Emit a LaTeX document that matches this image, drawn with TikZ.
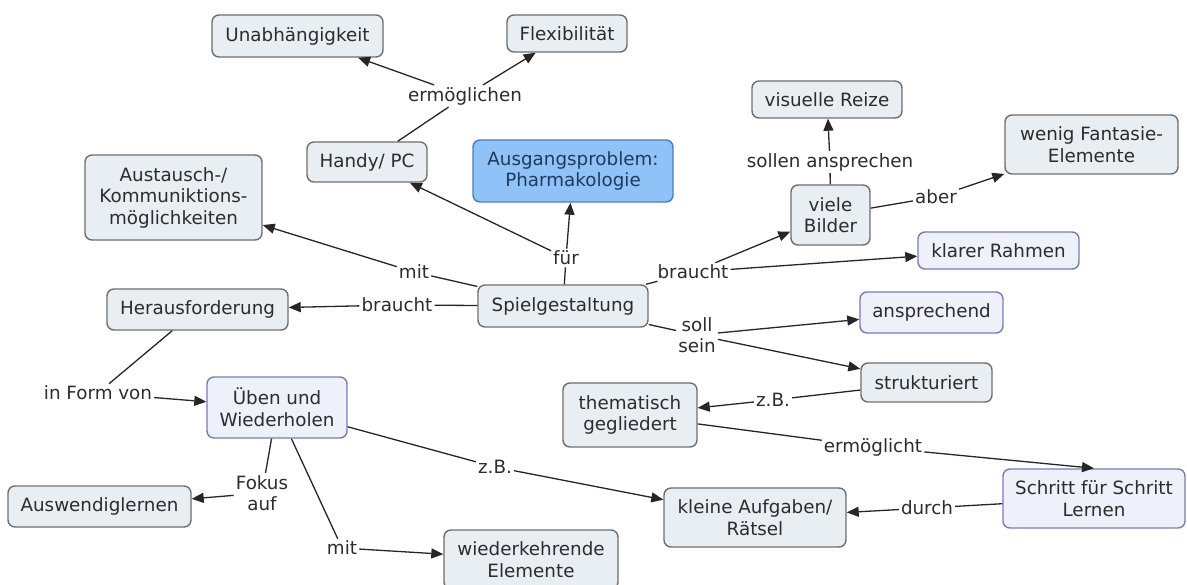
\documentclass[tikz,border=0pt]{standalone}
\usepackage{fontspec}
\setmainfont{DejaVu Sans}
\usetikzlibrary{arrows.meta}

\definecolor{boxfill}{HTML}{E8EEF2}
\definecolor{boxline}{HTML}{6E6E6E}
\definecolor{focusfill}{HTML}{EEF0FA}
\definecolor{focusline}{HTML}{7A7AB8}
\definecolor{probfill}{HTML}{8FC3F7}
\definecolor{probline}{HTML}{4C7CBF}
\definecolor{probtxt}{HTML}{1F3A5C}
\definecolor{txt}{HTML}{2C2C2C}
\definecolor{linkc}{HTML}{262626}

\tikzset{
  concept/.style={draw=boxline, fill=boxfill, rounded corners=7pt, line width=1.4pt,
    text=txt, align=center, inner sep=0pt, font=\fontsize{18.3}{21.5}\selectfont},
  focus/.style={concept, draw=focusline, fill=focusfill},
  problem/.style={concept, draw=probline, fill=probfill, text=probtxt},
  lbl/.style={text=txt, align=center, inner sep=2pt, font=\fontsize{18.3}{21.5}\selectfont},
  link/.style={draw=linkc, line width=1.3pt},
  arr/.style={link, -{Triangle[length=12pt,width=10pt]}},
}

\begin{document}
\begin{tikzpicture}[x=1pt, y=-1pt]
\useasboundingbox (0,0) rectangle (1187,585);
\clip (0,0) rectangle (1187,585);

% concepts
\node[concept, minimum width=171pt, minimum height=42pt] (unab) at (297.5,36) {Unabhängigkeit};
\node[concept, minimum width=120pt, minimum height=37pt] (flex) at (567,33.5) {Flexibilität};
\node[concept, minimum width=120pt, minimum height=40pt] (handy) at (367,162) {Handy/ PC};
\node[problem, minimum width=200pt, minimum height=62pt] (ausg) at (573,171) {Ausgangsproblem:\\Pharmakologie};
\node[concept, minimum width=177pt, minimum height=85pt] (aust) at (173.5,197.5) {Austausch-/\\Kommuniktions-\\möglichkeiten};
\node[concept, minimum width=170pt, minimum height=42pt] (spiel) at (563,306) {Spielgestaltung};
\node[concept, minimum width=181pt, minimum height=41pt] (hera) at (197.5,309.5) {Herausforderung};
\node[focus, minimum width=140pt, minimum height=61pt] (ueben) at (277,407.5) {Üben und\\Wiederholen};
\node[concept, minimum width=183pt, minimum height=41pt] (ausw) at (99.5,506.5) {Auswendiglernen};
\node[concept, minimum width=174pt, minimum height=59pt] (wied) at (531,559.5) {wiederkehrende\\Elemente};
\node[concept, minimum width=150pt, minimum height=37pt] (visu) at (827,99.5) {visuelle Reize};
\node[concept, minimum width=173pt, minimum height=59pt] (weni) at (1091.5,144.5) {wenig Fantasie-\\Elemente};
\node[concept, minimum width=79pt, minimum height=60pt] (viel) at (830.5,215) {viele\\Bilder};
\node[focus, minimum width=161pt, minimum height=37pt] (klar) at (998.5,250.5) {klarer Rahmen};
\node[focus, minimum width=143pt, minimum height=41pt] (ansp) at (931.5,312.5) {ansprechend};
\node[concept, minimum width=131pt, minimum height=39pt] (stru) at (926.5,382.5) {strukturiert};
\node[concept, minimum width=134pt, minimum height=64pt] (them) at (630,415) {thematisch\\gegliedert};
\node[focus, minimum width=182pt, minimum height=59pt] (schr) at (1094,498.5) {Schritt für Schritt\\Lernen};
\node[concept, minimum width=182pt, minimum height=59pt] (klei) at (755,517.5) {kleine Aufgaben/\\Rätsel};

% linking phrases
\node[lbl] (lerm)   at (465,96)  {ermöglichen};
\node[lbl] (lfuer)  at (566,258) {für};
\node[lbl] (lmita)  at (414,272) {mit};
\node[lbl] (lbra)   at (397,305) {braucht};
\node[lbl] (lbrb)   at (693,272) {braucht};
\node[lbl] (lsoll)  at (830,162) {sollen ansprechen};
\node[lbl] (laber)  at (936,197) {aber};
\node[lbl] (lsein)  at (697,335) {soll\\sein};
\node[lbl] (lzba)   at (773,400) {z.B.};
\node[lbl] (lermt)  at (873,447) {ermöglicht};
\node[lbl] (ldurch) at (927,508) {durch};
\node[lbl] (lform)  at (98,393)  {in Form von};
\node[lbl] (lfokus) at (262,493) {Fokus\\auf};
\node[lbl] (lmitb)  at (342,548) {mit};
\node[lbl] (lzbb)   at (495,467) {z.B.};

% connections
\draw[link] (handy) -- (lerm);
\draw[arr] (lerm) -- (unab);
\draw[arr] (lerm) -- (flex);

\draw[link] (spiel) -- (lfuer);
\draw[arr] (lfuer) -- (handy);
\draw[arr] (lfuer) -- (ausg);

\draw[link] (spiel) -- (lmita);
\draw[arr] (lmita) -- (aust);

\draw[link] (spiel) -- (lbra);
\draw[arr] (lbra) -- (hera);

\draw[link] (spiel) -- (lbrb);
\draw[arr] (lbrb) -- (viel);
\draw[arr] (lbrb) -- (klar);

\draw[link] (viel) -- (lsoll);
\draw[arr] (lsoll) -- (visu);

\draw[link] (viel) -- (laber);
\draw[arr] (laber) -- (weni);

\draw[link] (spiel) -- (lsein);
\draw[arr] (lsein) -- (ansp);
\draw[arr] (lsein) -- (stru);

\draw[link] (stru) -- (lzba);
\draw[arr] (lzba) -- (them);

\draw[link] (them) -- (lermt);
\draw[arr] (lermt) -- (schr.north);

\draw[link] (schr) -- (ldurch);
\draw[arr] (ldurch) -- (klei);

\draw[link] (hera) -- (lform);
\draw[arr] (lform) -- (ueben);

\draw[link] (ueben) -- (lfokus);
\draw[arr] (lfokus) -- (ausw);

\draw[link] (ueben) -- (lmitb);
\draw[arr] (lmitb) -- (wied);

\draw[link] (ueben) -- (lzbb);
\draw[arr] (lzbb) -- (klei);
\end{tikzpicture}
\end{document}
